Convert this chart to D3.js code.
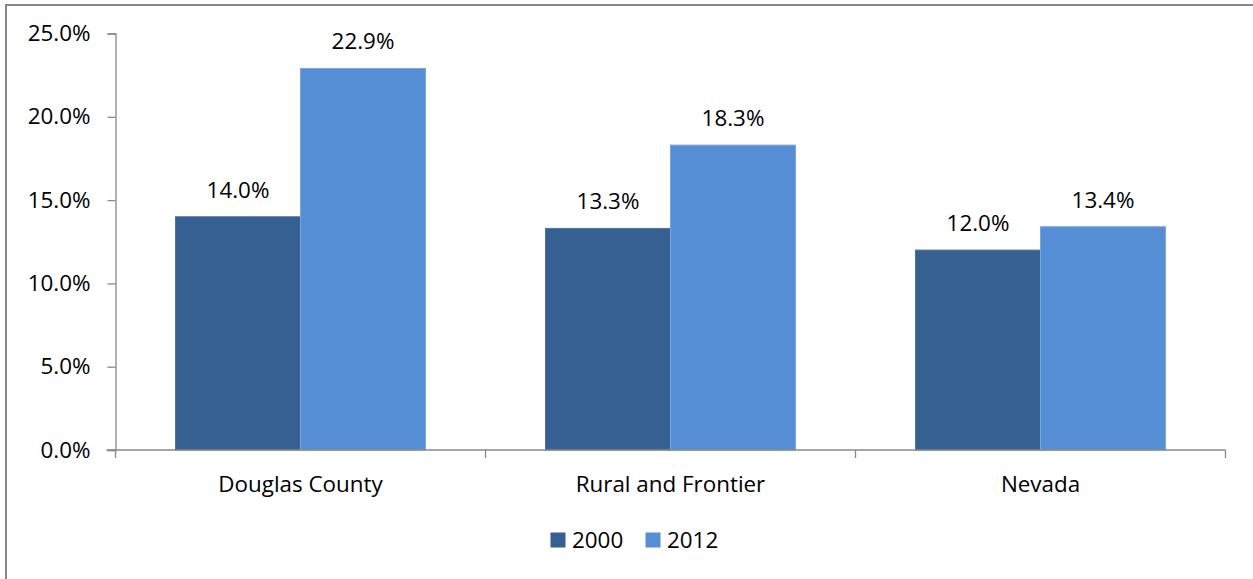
<!DOCTYPE html>
<html>
<head>
<meta charset="utf-8">
<script src="https://cdn.jsdelivr.net/npm/d3@7"></script>
<style>
  html, body { margin: 0; padding: 0; background: #fff; overflow: hidden; }
  svg { display: block; }
  text { font-family: "Open Sans", sans-serif; fill: #000; }
</style>
</head>
<body>
<svg id="chart" width="1253" height="579"></svg>
<script>
const categories = ["Douglas County", "Rural and Frontier", "Nevada"];
const seriesNames = ["2000", "2012"];
const values2000 = [14.0, 13.3, 12.0];
const values2012 = [22.9, 18.3, 13.4];
const yTicks = [0, 5, 10, 15, 20, 25];

const colors = { "2000": "#376092", "2012": "#558ED5" };
const strokes = { "2000": "#4a74a8", "2012": "#78a6df" };
const series = { "2000": values2000, "2012": values2012 };

const svg = d3.select("#chart");
const fontSize = 22.4;

// outer border (right and bottom edges fall outside the view)
svg.append("rect")
  .attr("x", 6).attr("y", 5).attr("width", 1300).attr("height", 620)
  .attr("fill", "none").attr("stroke", "#888").attr("stroke-width", 2);

const plotLeft = 115.5, plotRight = 1225.5, plotTop = 33.5, plotBottom = 450;

const x = d3.scaleBand().domain(categories).range([plotLeft, plotRight]).paddingInner(0).paddingOuter(0);
const y = d3.scaleLinear().domain([0, 25]).range([plotBottom, plotTop]);
const inner = d3.scaleBand().domain(seriesNames).range([60, x.bandwidth() - 60]).padding(0);

// Y axis
const yAxis = svg.append("g").attr("transform", `translate(${plotLeft},0)`)
  .call(d3.axisLeft(y).tickValues(yTicks).tickSize(8).tickPadding(17)
    .tickFormat(d => d3.format(".1f")(d) + "%"));
yAxis.select(".domain").attr("stroke", "#888").attr("stroke-width", 1.3);
yAxis.selectAll(".tick line").attr("stroke", "#888").attr("stroke-width", 1.3);
yAxis.selectAll(".tick text").attr("font-size", fontSize).attr("font-family", "Open Sans").attr("fill", "#000");

// Bars
categories.forEach((c, i) => {
  seriesNames.forEach(s => {
    const v = series[s][i];
    svg.append("rect")
      .attr("x", x(c) + inner(s))
      .attr("y", y(v))
      .attr("width", inner.bandwidth())
      .attr("height", y(0) - y(v))
      .attr("fill", colors[s])
      .attr("stroke", strokes[s])
      .attr("stroke-width", 1);
    svg.append("text")
      .attr("x", x(c) + inner(s) + inner.bandwidth() / 2)
      .attr("y", y(v) - 19)
      .attr("text-anchor", "middle")
      .attr("font-size", fontSize)
      .text(d3.format(".1f")(v) + "%");
  });
});

// X axis
svg.append("line").attr("x1", plotLeft - 9).attr("x2", plotRight).attr("y1", plotBottom).attr("y2", plotBottom)
  .attr("stroke", "#888").attr("stroke-width", 1.3);
const boundaries = categories.map(c => x(c)).concat([plotRight]);
svg.selectAll(".xtick").data(boundaries).enter().append("line")
  .attr("class", "xtick")
  .attr("x1", d => d).attr("x2", d => d).attr("y1", plotBottom).attr("y2", plotBottom + 8)
  .attr("stroke", "#888").attr("stroke-width", 1.3);
svg.selectAll(".xlabel").data(categories).enter().append("text")
  .attr("class", "xlabel")
  .attr("x", d => x(d) + x.bandwidth() / 2)
  .attr("y", 491.5)
  .attr("text-anchor", "middle")
  .attr("font-size", fontSize)
  .text(d => d);

// Legend
const legendX = [550.5, 645.5];
seriesNames.forEach((s, i) => {
  svg.append("rect").attr("x", legendX[i]).attr("y", 532.5).attr("width", 15).attr("height", 15)
    .attr("fill", colors[s]);
  svg.append("text").attr("x", legendX[i] + 21.5).attr("y", 547.5)
    .attr("font-size", fontSize).text(s);
});
</script>
</body>
</html>
